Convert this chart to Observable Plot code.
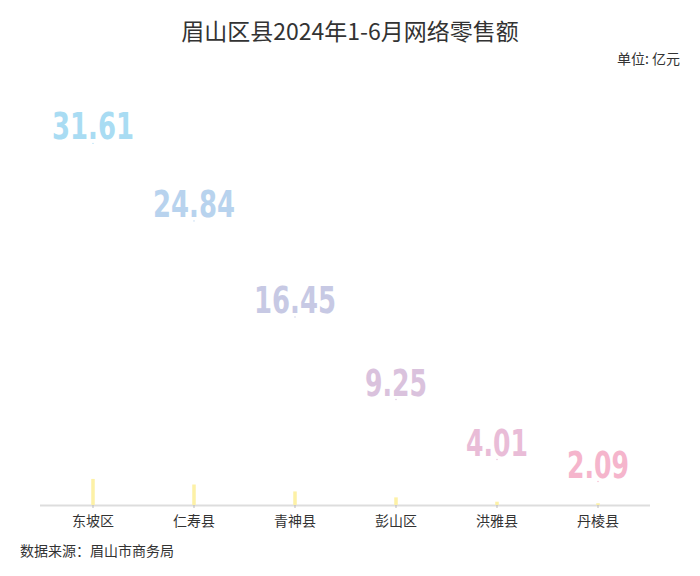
<!DOCTYPE html>
<html>
<head>
<meta charset="utf-8">
<script src="https://cdn.jsdelivr.net/npm/d3@7"></script>
<script src="https://cdn.jsdelivr.net/npm/@observablehq/plot@0.6"></script>
<style>
  body { margin: 0; background: #fff; font-family: "Noto Sans CJK SC", "Noto Sans", sans-serif; width: 700px; }
  #title { padding-top: 15px; height: 30px; line-height: 30px; font-size: 23px; color: #333; text-align: center; }
  #unit { margin-top: 5px; height: 16px; line-height: 16px; font-size: 14px; color: #333; text-align: right; padding-right: 20px; }
  #source { margin-top: 6px; height: 16px; line-height: 16px; font-size: 14px; color: #333; padding-left: 20px; }
</style>
</head>
<body>
<div id="title">眉山区县2024年1-6月网络零售额</div>
<div id="unit">单位: 亿元</div>
<div id="chart"></div>
<div id="source">数据来源：眉山市商务局</div>
<script>
const categories = ["东坡区", "仁寿县", "青神县", "彭山区", "洪雅县", "丹棱县"];
const values = [31.61, 24.84, 16.45, 9.25, 4.01, 2.09];
const palette = ["#a9dcf3", "#b8d3ee", "#c7c9e4", "#dac2dd", "#e9bcd7", "#f5b5cc"];

const data = categories.map((c, i) => ({ name: c, value: values[i] }));
const barFactor = 0.072; // small yellow stems are drawn at a reduced scale

const chart = Plot.plot({
  width: 700,
  height: 470,
  marginLeft: 40,
  marginRight: 50,
  marginTop: 38,
  marginBottom: 31,
  style: { fontFamily: "'Noto Sans CJK SC', sans-serif", background: "transparent" },
  x: { type: "band", domain: categories, padding: 0, label: null },
  y: { domain: [0, 35], axis: null },
  color: { domain: categories, range: palette },
  marks: [
    Plot.ruleY([0], { stroke: "#dddddd", strokeWidth: 2 }),
    Plot.ruleX(data, { x: "name", y1: 0, y2: d => d.value * barFactor, stroke: "#fdf1a6", strokeWidth: 3.5 }),
    Plot.axisX({ tickSize: 3, tickPadding: 8, fontSize: 14, color: "#333", stroke: "#bbb" }),
    Plot.dot(data, { x: "name", y: "value", r: 0.7, fill: "name", stroke: null }),
    Plot.text(data, {
      x: "name", y: "value", text: d => d.value.toFixed(2), fill: "name",
      lineAnchor: "bottom", dy: -4, fontSize: 37, fontWeight: "bold",
      fontFamily: "'DejaVu Sans Condensed', sans-serif", className: "vlabel"
    })
  ]
});
// condense the big value labels to match the narrow display face of the reference
d3.select(chart).selectAll(".vlabel text").each(function() {
  const s = this.textContent;
  this.setAttribute("textLength", s.length === 5 ? 82 : 62);
  this.setAttribute("lengthAdjust", "spacingAndGlyphs");
});
document.getElementById("chart").append(chart);
</script>
</body>
</html>
